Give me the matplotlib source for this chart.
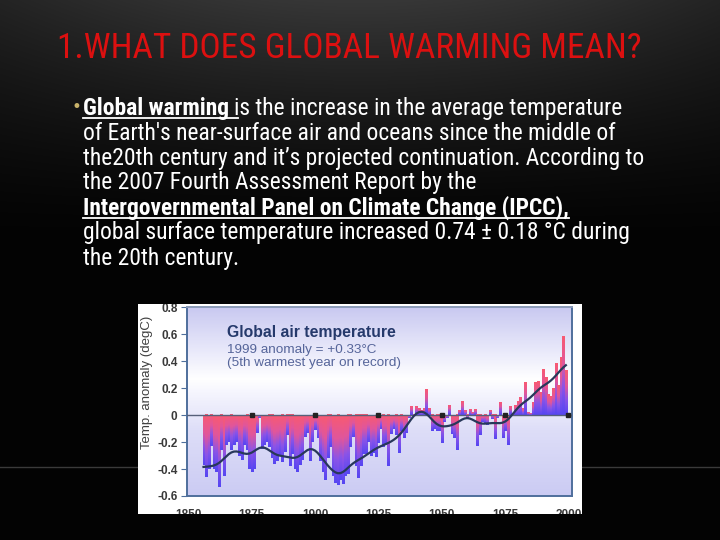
import os
import numpy as np
import matplotlib.pyplot as plt
from matplotlib.colors import LinearSegmentedColormap
from matplotlib.patches import Rectangle
from matplotlib.lines import Line2D
from matplotlib import font_manager
from matplotlib.font_manager import FontProperties

# data (annual anomaly, degC)
years = np.arange(1856, 2000)
anomaly = [
    -0.37, -0.46, -0.40, -0.23, -0.40, -0.42, -0.53, -0.26, -0.45, -0.22,
    -0.20, -0.26, -0.22, -0.20, -0.30, -0.33, -0.22, -0.26, -0.40, -0.42,
    -0.40, -0.13, -0.02, -0.25, -0.22, -0.20, -0.24, -0.32, -0.36, -0.34,
    -0.30, -0.35, -0.27, -0.15, -0.38, -0.29, -0.40, -0.42, -0.37, -0.33,
    -0.16, -0.13, -0.34, -0.20, -0.11, -0.17, -0.34, -0.42, -0.48, -0.32,
    -0.24, -0.45, -0.50, -0.52, -0.48, -0.51, -0.45, -0.44, -0.24, -0.16,
    -0.38, -0.47, -0.38, -0.29, -0.29, -0.20, -0.30, -0.28, -0.31, -0.21,
    -0.10, -0.24, -0.22, -0.38, -0.14, -0.10, -0.15, -0.28, -0.12, -0.17,
    -0.13, -0.02, 0.06, -0.01, 0.06, 0.05, 0.03, 0.05, 0.19, 0.05,
    -0.12, -0.10, -0.12, -0.12, -0.21, -0.05, -0.02, 0.07, -0.14, -0.17,
    -0.26, 0.03, 0.10, 0.03, -0.03, 0.04, 0.02, 0.04, -0.23, -0.15,
    -0.05, -0.06, -0.07, 0.03, -0.03, -0.18, -0.02, 0.09, -0.17, -0.12,
    -0.22, 0.06, -0.01, 0.07, 0.10, 0.13, 0.05, 0.24, 0.02, 0.01,
    0.09, 0.24, 0.25, 0.17, 0.34, 0.28, 0.15, 0.14, 0.20, 0.38,
    0.22, 0.43, 0.58, 0.33,
]
x_ticks = [1850, 1875, 1900, 1925, 1950, 1975, 2000]
marker_years = [1875, 1900, 1925, 1950, 1975, 2000]
y_ticks = [-0.6, -0.4, -0.2, 0, 0.2, 0.4, 0.6, 0.8]
y_tick_labels = ['-0.6', '-0.4', '-0.2', '0', '0.2', '0.4', '0.6', '0.8']

chart_title = 'Global air temperature'
chart_note1 = '1999 anomaly = +0.33\u00b0C'
chart_note2 = '(5th warmest year on record)'
y_label = 'Temp. anomaly (degC)'

slide_title = '1.WHAT DOES GLOBAL WARMING MEAN?'
bold_start = 'Global warming '
body_lines = [
    'is the increase in the average temperature',
    "of Earth's near-surface air and oceans since the middle of",
    'the20th century and it\u2019s projected continuation. According to',
    'the 2007 Fourth Assessment Report by the',
    'Intergovernmental Panel on Climate Change (IPCC),',
    'global surface temperature increased 0.74 \u00b1 0.18 \u00b0C during',
    'the 20th century.',
]


def narrow_pair():
    bad = ('Italic', 'Oblique', 'Light', 'Thin', 'Medium', 'Black', 'Semi',
           'Extra', 'Mono', 'Serif')
    files = [f.fname for f in font_manager.fontManager.ttflist]
    for key in ['LiberationSansNarrow', 'RobotoCondensed', 'NotoSans-Condensed',
                'DejaVuSansCondensed', 'OpenSansCondensed']:
        group = [p for p in files if os.path.basename(p).startswith(key)
                 and not any(b in os.path.basename(p) for b in bad)]
        reg = sorted(p for p in group if 'Bold' not in os.path.basename(p))
        bold = sorted(p for p in group if 'Bold' in os.path.basename(p))
        if reg and bold:
            return FontProperties(fname=reg[0]), FontProperties(fname=bold[0])
    return (FontProperties(family='Liberation Sans'),
            FontProperties(family='Liberation Sans', weight='bold'))


fp_reg, fp_bold = narrow_pair()
arial = 'Liberation Sans'

fig = plt.figure(figsize=(7.2, 5.4), dpi=100)

# slide background (pixel coordinates)
bg = fig.add_axes([0, 0, 1, 1])
bg.set_xlim(0, 720)
bg.set_ylim(540, 0)
bg.axis('off')
yy, xx = np.mgrid[0:540, 0:720]
light = 0.20 * np.clip(1 - yy / 230.0, 0, 1) ** 1.3 * np.exp(-((xx - 360) / 520.0) ** 2) + 0.015
bg.imshow(np.dstack([light, light, light]), extent=(0, 720, 540, 0), aspect='auto', zorder=0)
for x0, x1 in [(0, 138), (582, 720)]:
    bg.plot([x0, x1], [467, 467], color='#3a3a3a', lw=1, zorder=1)

title_t = bg.text(57, 48, slide_title, color='#dc1010', fontproperties=fp_reg.copy(),
                  va='center', ha='left')
title_t.set_fontsize(22)
bg.text(72, 107, '\u2022', color='#c9b36a', fontsize=12, va='center', ha='left')

line_y = [108, 133, 158, 183, 208, 233, 258]
t0 = bg.text(83, line_y[0], bold_start, color='white', fontproperties=fp_bold.copy(),
             va='center', ha='left')
t1 = bg.annotate(body_lines[0], xy=(1, 0), xycoords=t0, color='white',
                 fontproperties=fp_reg.copy(), va='bottom', ha='left')
body = [t0, t1]
underlined = [t0]
for i in range(1, 7):
    fp = fp_bold if i == 4 else fp_reg
    t = bg.text(83, line_y[i], body_lines[i], color='white', fontproperties=fp.copy(),
                va='center', ha='left')
    body.append(t)
    if i == 4:
        underlined.append(t)
for t in body:
    t.set_fontsize(15)

# picture panel
panel = Rectangle((138, 304), 444, 210, facecolor='white', edgecolor='none', zorder=1)
bg.add_patch(panel)

ax = fig.add_axes([187.3 / 720, 1 - 496 / 540, 384.4 / 720, 188.7 / 540])
x_lo, x_hi = 1849.6, 2001.3
y_lo, y_hi = -0.6, 0.8

back = LinearSegmentedColormap.from_list(
    'back', [(0, '#cbcbf3'), (0.35, '#dedef8'), (0.55, '#f6f6fe'), (0.62, '#ffffff'),
             (0.75, '#ececfb'), (1, '#c9c9f1')])
ax.imshow(np.linspace(1, 0, 200).reshape(-1, 1), cmap=back, aspect='auto',
          extent=(x_lo, x_hi, y_lo, y_hi), zorder=0)

bar_cmap = LinearSegmentedColormap.from_list(
    'bar', [(0, '#5646f2'), (0.35, '#8a54e8'), (0.65, '#e0569c'), (1, '#f85a72')])
grad = np.linspace(1, 0, 64).reshape(-1, 1)
width = 0.8
for yr, v in zip(years, anomaly):
    lo, hi = min(0, v), max(0, v)
    ax.imshow(grad, cmap=bar_cmap, aspect='auto', interpolation='bilinear',
              extent=(yr - width / 2, yr + width / 2, lo, hi), zorder=2)

# smoothed curve (gaussian weighted running mean)
vals = np.array(anomaly)
k = np.arange(-12, 13)
wts = np.exp(-0.5 * (k / 3.2) ** 2)
smooth = []
for i in range(len(vals)):
    idx = i + k
    ok = (idx >= 0) & (idx < len(vals))
    smooth.append(np.sum(wts[ok] * vals[idx[ok]]) / np.sum(wts[ok]))
ax.plot(years, smooth, color='#28385a', lw=1.6, zorder=4)

ax.axhline(0, color='#56607a', lw=1, zorder=3)
ax.plot(marker_years, [0] * len(marker_years), 's', color='#222222', ms=2.2, zorder=4)

ax.set_xlim(x_lo, x_hi)
ax.set_ylim(y_lo, y_hi)
ax.set_xticks(x_ticks)
ax.set_xticklabels([str(x) for x in x_ticks])
ax.set_yticks(y_ticks)
ax.set_yticklabels(y_tick_labels)
for s in ax.spines.values():
    s.set_color('#4f6f9c')
    s.set_linewidth(1.4)
ax.spines['top'].set_color('#8a9ab8')
ax.tick_params(axis='y', direction='out', length=4, color='#4f6f9c', pad=3)
ax.tick_params(axis='x', length=0, pad=9.5)
for lab in ax.get_xticklabels() + ax.get_yticklabels():
    lab.set_fontweight('bold')
    lab.set_fontsize(8.5)
    lab.set_color('#3a3a3a')
    lab.set_family(arial)
    lab.set_clip_path(panel)
ax.set_ylabel(y_label, fontsize=9.5, color='#404040', family=arial)
ax.yaxis.set_label_coords(-0.090, 0.6)
ax.yaxis.label.set_clip_path(panel)

ax.text(0.1025, 0.864, chart_title, transform=ax.transAxes, fontsize=11.3,
        fontweight='bold', color='#25396b', family=arial, va='center', zorder=5)
ax.text(0.1025, 0.774, chart_note1, transform=ax.transAxes, fontsize=9.7,
        color='#56659a', family=arial, va='center', zorder=5)
ax.text(0.1025, 0.705, chart_note2, transform=ax.transAxes, fontsize=9.7,
        color='#56659a', family=arial, va='center', zorder=5)

# fit slide text widths to the layout
fig.canvas.draw()
w_title = title_t.get_window_extent().width
title_t.set_fontsize(22 * 583.0 / w_title)
w_line = body[3].get_window_extent().width
for t in body:
    t.set_fontsize(15 * 562.0 / w_line)

# underline the bold runs
fig.canvas.draw()
for t in underlined:
    bb = t.get_window_extent()
    yline = bb.y0 + 2
    x1 = bb.x1 + (4 if t is t0 else 0)
    fig.add_artist(Line2D([bb.x0, x1], [yline, yline], color='white', lw=1.3,
                          transform=None))

fig.savefig('out.png', dpi=100)
